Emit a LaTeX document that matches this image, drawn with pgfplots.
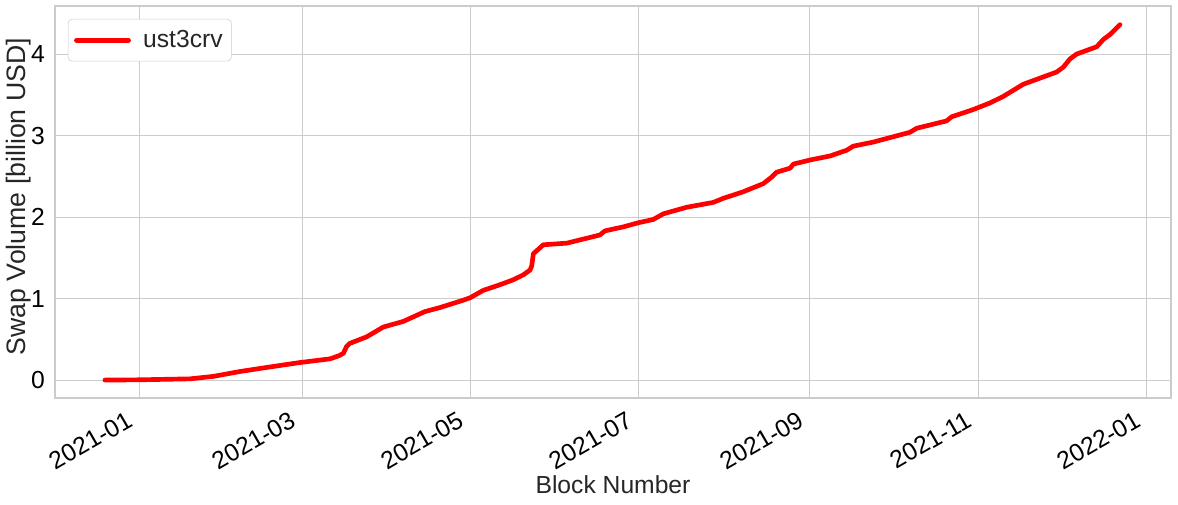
\documentclass[border=0pt]{standalone}
\usepackage{pgfplots}
\pgfplotsset{compat=1.18}
\usepackage{fontspec}
\setmainfont{Liberation Sans}
\definecolor{gridgray}{RGB}{204,204,204}
\definecolor{txt}{RGB}{38,38,38}
\newcommand{\tl}{\fontsize{18.5}{20}\selectfont}
\begin{document}
\begin{tikzpicture}
\path[use as bounding box] (-41.25pt,-80.25pt) rectangle (842.25pt,298.5pt);
\begin{axis}[
  at={(0pt,0pt)}, anchor=south west,
  scale only axis,
  width=837pt, height=294pt,
  xmin=-30.5, xmax=373.8,
  ymin=-0.22, ymax=4.59,
  xtick={0,59,120,181,243,304,365},
  xticklabels={{\tl 2021-01},{\tl 2021-03},{\tl 2021-05},{\tl 2021-07},{\tl 2021-09},{\tl 2021-11},{\tl 2022-01}},
  ytick={0,1,2,3,4},
  yticklabels={{\tl 0},{\tl 1},{\tl 2},{\tl 3},{\tl 4}},
  tick style={draw=none},
  major tick length=0pt,
  xmajorgrids, ymajorgrids,
  grid style={gridgray, line width=0.75pt},
  axis line style={gridgray, line width=0.9pt},
  tick label style={text=black},
  xticklabel style={xshift=-10pt, yshift=-9pt, rotate=30, anchor=north east, inner sep=0pt},
  yticklabel style={xshift=-4pt},
  xlabel={Block Number},
  ylabel={Swap Volume [billion USD]},
  xlabel style={font=\fontsize{18.5}{20}\selectfont, text=txt, yshift=0pt},
  ylabel style={font=\fontsize{20}{22}\selectfont, text=txt, yshift=-6.5pt, xshift=4pt},
  legend style={font=\fontsize{18.5}{20}\selectfont, text=txt, draw=gridgray, rounded corners=3pt,
    at={(0.0115,0.967)}, anchor=north west, inner xsep=4.5pt, inner ysep=6.5pt},
  legend cell align=left,
  legend image code/.code={\draw[#1, line width=3.6pt] (0pt,0pt) -- (39pt,0pt); \path[draw=none, fill=none] (0pt,0pt) -- (48pt,0pt);},
]
\addplot[red, line width=3.5pt, line join=round, line cap=round] coordinates {
(-12.4,0) (0,0.003) (18.4,0.015) (26.8,0.045) (36.5,0.105) (46.2,0.155) (58.2,0.215)
(69.1,0.26) (72.5,0.30) (74,0.33) (75.1,0.41) (76.3,0.45) (82.4,0.53) (88.4,0.65)
(95.7,0.72) (103.5,0.84) (109.0,0.89) (117.4,0.98) (119.9,1.01) (124.6,1.10)
(130.7,1.17) (135.5,1.23) (139.1,1.29) (141.6,1.35) (142.2,1.40) (142.8,1.55)
(146.4,1.66) (154.9,1.68) (159.7,1.72) (166.9,1.78) (168.7,1.83) (175.4,1.88)
(180.8,1.93) (186.2,1.97) (189.9,2.04) (198.3,2.12) (208.0,2.18) (211.6,2.23)
(218.8,2.31) (226.1,2.41) (229.1,2.49) (230.9,2.55) (235.8,2.60) (237.0,2.65)
(243.0,2.70) (250.3,2.75) (256.3,2.82) (258.7,2.87) (265.9,2.92) (279.2,3.04)
(281.7,3.09) (292.5,3.18) (294.3,3.23) (302.2,3.32) (308.2,3.40) (313.0,3.48)
(320.3,3.63) (332.4,3.78) (334.8,3.84) (337.2,3.94) (339.6,4.00) (346.9,4.09)
(349.3,4.18) (351.7,4.24) (355.3,4.36)
};
\addlegendentry{ust3crv}
\end{axis}
\end{tikzpicture}
\end{document}
